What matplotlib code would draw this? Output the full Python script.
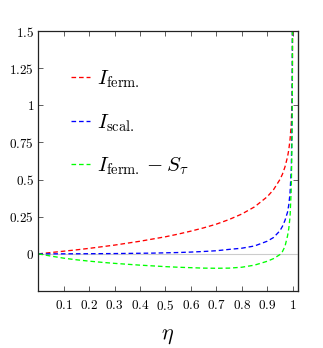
import numpy as np
import matplotlib
matplotlib.use("Agg")
import matplotlib.pyplot as plt

plt.rcParams['mathtext.fontset'] = 'cm'
plt.rcParams['font.family'] = 'serif'

# values
eta = [0, 0.05, 0.1, 0.15, 0.2, 0.25, 0.3, 0.35, 0.4, 0.45, 0.5, 0.55, 0.6,
       0.65, 0.7, 0.75, 0.8, 0.85, 0.9, 0.925, 0.95, 0.96, 0.97, 0.98, 0.985,
       0.99, 0.995, 0.998, 0.999, 0.9995, 0.9999]
i_ferm = [0, 0.009, 0.018, 0.027, 0.037, 0.048, 0.059, 0.072, 0.085, 0.1,
          0.115, 0.133, 0.153, 0.175, 0.2, 0.231, 0.268, 0.316, 0.384, 0.432,
          0.5, 0.536, 0.585, 0.652, 0.7, 0.77, 0.88, 1.04, 1.15, 1.27, 1.53]
i_scal = [0, 0.0001, 0.0003, 0.0006, 0.001, 0.0015, 0.002, 0.003, 0.004,
          0.005, 0.007, 0.009, 0.012, 0.016, 0.021, 0.03, 0.038, 0.053, 0.085,
          0.11, 0.155, 0.185, 0.225, 0.28, 0.33, 0.41, 0.58, 0.95, 1.3, 1.7, 2.5]
i_diff = [0, -0.015, -0.029, -0.04, -0.049, -0.057, -0.064, -0.07, -0.076,
          -0.081, -0.086, -0.09, -0.093, -0.096, -0.097, -0.096, -0.09, -0.076,
          -0.05, -0.032, -0.005, 0.015, 0.05, 0.12, 0.17, 0.25, 0.45, 0.8, 1.1,
          1.6, 2.5]

xticks = [0.1, 0.2, 0.3, 0.4, 0.5, 0.6, 0.7, 0.8, 0.9, 1.0]
xlabels = ['0.1', '0.2', '0.3', '0.4', '0.5', '0.6', '0.7', '0.8', '0.9', '1']
yticks = [0, 0.25, 0.5, 0.75, 1.0, 1.25, 1.5]
ylabels = ['0', '0.25', '0.5', '0.75', '1', '1.25', '1.5']

fig = plt.figure(figsize=(3.23, 3.48), dpi=100)
ax = fig.add_axes([0.1186, 0.1638, 0.803, 0.747])

ax.axhline(0, color='#cccccc', lw=0.8, zorder=1)

style = dict(lw=0.95, dashes=(3.5, 2.2))
ax.plot(eta, i_ferm, color='#ff0000', label=r'$I_{\rm ferm.}$', **style)
ax.plot(eta, i_scal, color='#0000ff', label=r'$I_{\rm scal.}$', **style)
ax.plot(eta, i_diff, color='#00ff00', label=r'$I_{\rm ferm.}-S_\tau$', **style)

ax.set_xlim(0, 1.02)
ax.set_ylim(-0.25, 1.5)
ax.set_xticks(xticks)
ax.set_xticklabels(['$' + s + '$' for s in xlabels], fontsize=9.5)
ax.set_yticks(yticks)
ax.set_yticklabels(['$' + s + '$' for s in ylabels], fontsize=9.5)
ax.tick_params(direction='in', length=3.5, width=0.6, color='#444444',
               top=True, right=False)
ax.tick_params(axis='x', pad=6)
ax.tick_params(axis='y', pad=3)

sec = ax.secondary_yaxis('right')
sec.set_yticks([0.5, 1.0])
sec.set_yticklabels([])
sec.tick_params(direction='in', length=3.5, width=0.6, color='#444444')

for sp in ax.spines.values():
    sp.set_linewidth(0.9)
    sp.set_color('#222222')

ax.set_xlabel(r'$\eta$', fontsize=16, labelpad=8)

ax.legend(loc='upper left', bbox_to_anchor=(0.087, 0.895), frameon=False,
          fontsize=15, handlelength=0.9, handletextpad=0.35,
          labelspacing=1.05, borderpad=0)

fig.savefig('out.png', dpi=100)
